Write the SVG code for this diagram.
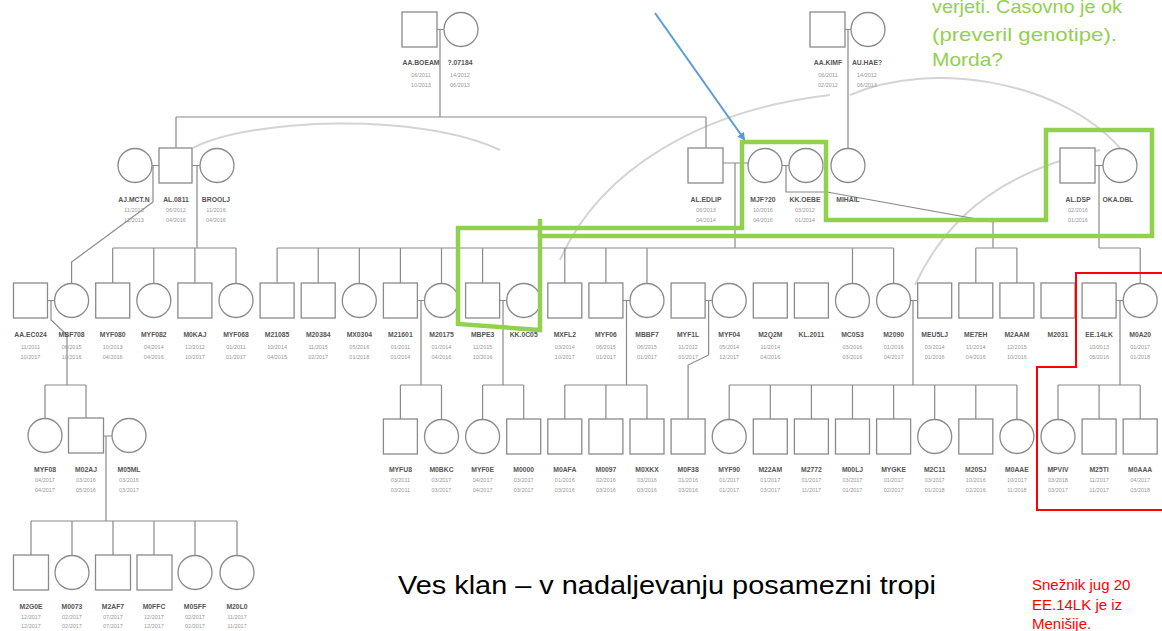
<svg xmlns="http://www.w3.org/2000/svg" width="1162" height="631" viewBox="0 0 1162 631">
<defs>
<style>
.s{fill:#fff;stroke:#8a8a8a;stroke-width:1.3}
.ln{fill:none;stroke:#8a8a8a;stroke-width:1.2}
.arc{fill:none;stroke:#d4d4d4;stroke-width:2}
.nm{font-family:"Liberation Sans",Arial,sans-serif;font-size:6.8px;font-weight:bold;fill:#555;text-anchor:middle}
.nb{font-family:"Liberation Sans",Arial,sans-serif;font-size:5.5px;fill:#999;text-anchor:middle}
.grn{fill:none;stroke:#92D050;stroke-width:4.5}
.red{fill:none;stroke:#FF0000;stroke-width:2}
.gt{font-family:"Liberation Sans",Arial,sans-serif;font-size:19px;fill:#92D050}
.rt{font-family:"Liberation Sans",Arial,sans-serif;font-size:15px;fill:#FF0000}
</style>
<marker id="ah" markerWidth="8" markerHeight="8" refX="6" refY="4" orient="auto" markerUnits="userSpaceOnUse" viewBox="0 0 8 8"><path d="M0,0 L8,4 L0,8 z" fill="#5B9BD5"/></marker>
</defs>
<rect width="1162" height="631" fill="#fff"/>

<g id="arcs">
<path class="arc" d="M193,148 C250,118 420,112 500,150"/>
<path class="arc" d="M560,260 C600,170 700,110 830,95"/>
<path class="arc" d="M850,95 C930,60 1060,80 1120,148"/>
<path class="arc" d="M915,285 C950,210 1010,170 1100,150"/>
</g>

<g id="connectors">
<path class="ln" d="M437,29.5 H443.5 M440,29.5 V117 M176,117 H706 M176,117 V148 M706,117 V148"/>
<path class="ln" d="M845,29.5 H851 M848,29.5 V148"/>
<path class="ln" d="M152,165.5 H159 M153,165.5 V202 L71.6,262 V283.5"/>
<path class="ln" d="M192,165.5 H200 M197,165.5 V248 M112.7,248 H236 M112.7,248 V283 M153.8,248 V283.5 M194.9,248 V283 M236,248 V283.5"/>
<path class="ln" d="M723,163 H748 M735,163 V248 M277.1,248 H893.6 M277.1,248 V283 M318.2,248 V283 M359.3,248 V283.5 M400.4,248 V283 M441.5,248 V283.5 M482.6,248 V283 M564.8,248 V283 M605.9,248 V283 M647,248 V283.5 M852.5,248 V283.5 M893.6,248 V283.5"/>
<path class="ln" d="M782,165.5 H789 M786,165.5 V192 H827 L993,222 V248 M975.8,248 H1016.9 M975.8,248 V283 M1016.9,248 V283"/>
<path class="ln" d="M1095,165.5 H1103 M1099,165.5 V248 M1099,248 H1140.2 M1140.2,248 V283.5"/>
<path class="ln" d="M47.5,300.5 H54.6 M51,300.5 V320 L67,335 V385 M45,385 H86 M45,385 V418 M86,385 V418"/>
<path class="ln" d="M103,436 H112 M106,436 V521 M31,521 H237 M31,521 V555 M72,521 V555.5 M113,521 V555 M154,521 V555 M195,521 V555.5 M237,521 V555.5"/>
<path class="ln" d="M417.4,300.5 H424.5 M421,300.5 V385 M400.4,385 H441.5 M400.4,385 V419 M441.5,385 V419.5"/>
<path class="ln" d="M499.6,300.5 H506.7 M503,300.5 V385 M482.6,385 H523.7 M482.6,385 V419.5 M523.7,385 V419"/>
<path class="ln" d="M622.9,300.5 H630 M626.5,300.5 V385 M564.8,385 H647 M564.8,385 V419 M605.9,385 V419 M647,385 V419"/>
<path class="ln" d="M705.1,300.5 H712.2 M708.6,300.5 V355 L688.1,365 V419"/>
<path class="ln" d="M910.6,300.5 H917.7 M913,300.5 V385 M729.2,385 H1016.9 M729.2,385 V419.5 M770.3,385 V419 M811.4,385 V419 M852.5,385 V419 M893.6,385 V419 M934.7,385 V419.5 M975.8,385 V419 M1016.9,385 V419.5"/>
<path class="ln" d="M1116.1,300.5 H1123.2 M1120,300.5 V385 M1058,385 H1140.2 M1058,385 V419.5 M1099.1,385 V419 M1140.2,385 V419"/>
</g>

<!-- Row 1 -->
<g id="n-aabo"><rect class="s" x="402" y="12" width="35" height="35"/><text class="nm" x="421" y="65">AA.BOEAM</text><text class="nb" x="421" y="77">06/2011</text><text class="nb" x="421" y="87">10/2013</text></g>
<g id="n-07184"><circle class="s" cx="461" cy="29.5" r="17"/><text class="nm" x="460" y="65">?.07184</text><text class="nb" x="460" y="77">14/2012</text><text class="nb" x="460" y="87">06/2013</text></g>
<g id="n-aakimf"><rect class="s" x="810" y="12" width="35" height="35"/><text class="nm" x="828" y="65">AA.KIMF</text><text class="nb" x="828" y="77">06/2011</text><text class="nb" x="828" y="87">02/2012</text></g>
<g id="n-auhae"><circle class="s" cx="868" cy="29.5" r="17"/><text class="nm" x="867" y="65">AU.HAE?</text><text class="nb" x="867" y="77">14/2012</text><text class="nb" x="867" y="87">06/2013</text></g>

<!-- Row 2 -->
<g id="n-ajmct"><circle class="s" cx="135" cy="165.5" r="17"/><text class="nm" x="134" y="202">AJ.MCT.N</text><text class="nb" x="134" y="212">11/2013</text><text class="nb" x="134" y="222">12/2013</text></g>
<g id="n-al0811"><rect class="s" x="159" y="148" width="33" height="35"/><text class="nm" x="176" y="202">AL.0811</text><text class="nb" x="176" y="212">06/2012</text><text class="nb" x="176" y="222">04/2016</text></g>
<g id="n-broolj"><circle class="s" cx="217" cy="165.5" r="17"/><text class="nm" x="216" y="202">BROOLJ</text><text class="nb" x="216" y="212">11/2016</text><text class="nb" x="216" y="222">04/2016</text></g>
<g id="n-aledlip"><rect class="s" x="688" y="148" width="35" height="35"/><text class="nm" x="706" y="202">AL.EDLIP</text><text class="nb" x="706" y="212">06/2013</text><text class="nb" x="706" y="222">04/2014</text></g>
<g id="n-mjf20"><circle class="s" cx="765" cy="165.5" r="17"/><text class="nm" x="763" y="202">MJF?20</text><text class="nb" x="763" y="212">10/2016</text><text class="nb" x="763" y="222">04/2016</text></g>
<g id="n-kkoeb"><circle class="s" cx="806" cy="165.5" r="17"/><text class="nm" x="805" y="202">KK.OEBE</text><text class="nb" x="805" y="212">03/2012</text><text class="nb" x="805" y="222">01/2014</text></g>
<g id="n-mihail"><circle class="s" cx="848" cy="165.5" r="17"/><text class="nm" x="848" y="202">MIHAIL</text></g>
<g id="n-aldsp"><rect class="s" x="1060" y="148" width="35" height="35"/><text class="nm" x="1078" y="202">AL.DSP</text><text class="nb" x="1078" y="212">02/2016</text><text class="nb" x="1078" y="222">01/2016</text></g>
<g id="n-okadbl"><circle class="s" cx="1120" cy="165.5" r="17"/><text class="nm" x="1118" y="202">OKA.DBL</text></g>

<!-- Row 3 -->
<g id="n-r3-01"><rect class="s" x="13.5" y="283" width="34" height="35"/><text class="nm" x="30.5" y="337">AA.EC024</text><text class="nb" x="30.5" y="349">11/2011</text><text class="nb" x="30.5" y="359">10/2017</text></g>
<g id="n-r3-02"><circle class="s" cx="71.6" cy="300.5" r="17"/><text class="nm" x="71.6" y="337">MBF708</text><text class="nb" x="71.6" y="349">06/2015</text><text class="nb" x="71.6" y="359">10/2016</text></g>
<g id="n-r3-03"><rect class="s" x="95.7" y="283" width="34" height="35"/><text class="nm" x="112.7" y="337">MYF080</text><text class="nb" x="112.7" y="349">10/2013</text><text class="nb" x="112.7" y="359">04/2016</text></g>
<g id="n-r3-04"><circle class="s" cx="153.8" cy="300.5" r="17"/><text class="nm" x="153.8" y="337">MYF082</text><text class="nb" x="153.8" y="349">04/2014</text><text class="nb" x="153.8" y="359">04/2016</text></g>
<g id="n-r3-05"><rect class="s" x="177.9" y="283" width="34" height="35"/><text class="nm" x="194.9" y="337">M0KAJ</text><text class="nb" x="194.9" y="349">12/2012</text><text class="nb" x="194.9" y="359">10/2017</text></g>
<g id="n-r3-06"><circle class="s" cx="236" cy="300.5" r="17"/><text class="nm" x="236" y="337">MYF068</text><text class="nb" x="236" y="349">01/2011</text><text class="nb" x="236" y="359">01/2017</text></g>
<g id="n-r3-07"><rect class="s" x="260.1" y="283" width="34" height="35"/><text class="nm" x="277.1" y="337">M21085</text><text class="nb" x="277.1" y="349">10/2014</text><text class="nb" x="277.1" y="359">04/2015</text></g>
<g id="n-r3-08"><rect class="s" x="301.2" y="283" width="34" height="35"/><text class="nm" x="318.2" y="337">M20384</text><text class="nb" x="318.2" y="349">11/2015</text><text class="nb" x="318.2" y="359">02/2017</text></g>
<g id="n-r3-09"><circle class="s" cx="359.3" cy="300.5" r="17"/><text class="nm" x="359.3" y="337">MX0304</text><text class="nb" x="359.3" y="349">05/2016</text><text class="nb" x="359.3" y="359">01/2018</text></g>
<g id="n-r3-10"><rect class="s" x="383.4" y="283" width="34" height="35"/><text class="nm" x="400.4" y="337">M21601</text><text class="nb" x="400.4" y="349">01/2011</text><text class="nb" x="400.4" y="359">01/2014</text></g>
<g id="n-r3-11"><circle class="s" cx="441.5" cy="300.5" r="17"/><text class="nm" x="441.5" y="337">M20175</text><text class="nb" x="441.5" y="349">01/2014</text><text class="nb" x="441.5" y="359">04/2016</text></g>
<g id="n-r3-12"><rect class="s" x="465.6" y="283" width="34" height="35"/><text class="nm" x="482.6" y="337">MBPE3</text><text class="nb" x="482.6" y="349">11/2015</text><text class="nb" x="482.6" y="359">10/2016</text></g>
<g id="n-r3-13"><circle class="s" cx="523.7" cy="300.5" r="17"/><text class="nm" x="523.7" y="337">KK.0C05</text></g>
<g id="n-r3-14"><rect class="s" x="547.8" y="283" width="34" height="35"/><text class="nm" x="564.8" y="337">MXFL2</text><text class="nb" x="564.8" y="349">03/2014</text><text class="nb" x="564.8" y="359">10/2017</text></g>
<g id="n-r3-15"><rect class="s" x="588.9" y="283" width="34" height="35"/><text class="nm" x="605.9" y="337">MYF06</text><text class="nb" x="605.9" y="349">06/2015</text><text class="nb" x="605.9" y="359">01/2017</text></g>
<g id="n-r3-16"><circle class="s" cx="647" cy="300.5" r="17"/><text class="nm" x="647" y="337">MBBF7</text><text class="nb" x="647" y="349">06/2015</text><text class="nb" x="647" y="359">01/2017</text></g>
<g id="n-r3-17"><rect class="s" x="671.1" y="283" width="34" height="35"/><text class="nm" x="688.1" y="337">MYF1L</text><text class="nb" x="688.1" y="349">11/2012</text><text class="nb" x="688.1" y="359">01/2017</text></g>
<g id="n-r3-18"><circle class="s" cx="729.2" cy="300.5" r="17"/><text class="nm" x="729.2" y="337">MYF04</text><text class="nb" x="729.2" y="349">05/2014</text><text class="nb" x="729.2" y="359">12/2017</text></g>
<g id="n-r3-19"><rect class="s" x="753.3" y="283" width="34" height="35"/><text class="nm" x="770.3" y="337">M2Q2M</text><text class="nb" x="770.3" y="349">11/2014</text><text class="nb" x="770.3" y="359">04/2016</text></g>
<g id="n-r3-20"><rect class="s" x="794.4" y="283" width="34" height="35"/><text class="nm" x="811.4" y="337">KL.2011</text></g>
<g id="n-r3-21"><circle class="s" cx="852.5" cy="300.5" r="17"/><text class="nm" x="852.5" y="337">MC0S3</text><text class="nb" x="852.5" y="349">03/2016</text><text class="nb" x="852.5" y="359">03/2016</text></g>
<g id="n-r3-22"><circle class="s" cx="893.6" cy="300.5" r="17"/><text class="nm" x="893.6" y="337">M2090</text><text class="nb" x="893.6" y="349">01/2016</text><text class="nb" x="893.6" y="359">04/2017</text></g>
<g id="n-r3-23"><rect class="s" x="917.7" y="283" width="34" height="35"/><text class="nm" x="934.7" y="337">MEU5LJ</text><text class="nb" x="934.7" y="349">03/2014</text><text class="nb" x="934.7" y="359">01/2016</text></g>
<g id="n-r3-24"><rect class="s" x="958.8" y="283" width="34" height="35"/><text class="nm" x="975.8" y="337">ME7EH</text><text class="nb" x="975.8" y="349">11/2014</text><text class="nb" x="975.8" y="359">04/2016</text></g>
<g id="n-r3-25"><rect class="s" x="999.9" y="283" width="34" height="35"/><text class="nm" x="1016.9" y="337">M2AAM</text><text class="nb" x="1016.9" y="349">12/2015</text><text class="nb" x="1016.9" y="359">10/2016</text></g>
<g id="n-r3-26"><rect class="s" x="1041" y="283" width="34" height="35"/><text class="nm" x="1058" y="337">M2031</text></g>
<g id="n-r3-27"><rect class="s" x="1082.1" y="283" width="34" height="35"/><text class="nm" x="1099.1" y="337">EE.14LK</text><text class="nb" x="1099.1" y="349">10/2013</text><text class="nb" x="1099.1" y="359">05/2016</text></g>
<g id="n-r3-28"><circle class="s" cx="1140.2" cy="300.5" r="17"/><text class="nm" x="1140.2" y="337">M0A20</text><text class="nb" x="1140.2" y="349">01/2017</text><text class="nb" x="1140.2" y="359">01/2018</text></g>

<!-- Row 4 left -->
<g id="n-r4-a"><circle class="s" cx="45" cy="435.5" r="17"/><text class="nm" x="45" y="472">MYF08</text><text class="nb" x="45" y="482">04/2017</text><text class="nb" x="45" y="492">04/2017</text></g>
<g id="n-r4-b"><rect class="s" x="68.5" y="418" width="35" height="35"/><text class="nm" x="86" y="472">M02AJ</text><text class="nb" x="86" y="482">03/2016</text><text class="nb" x="86" y="492">05/2016</text></g>
<g id="n-r4-c"><circle class="s" cx="129" cy="435.5" r="17"/><text class="nm" x="129" y="472">M05ML</text><text class="nb" x="129" y="482">03/2016</text><text class="nb" x="129" y="492">03/2017</text></g>

<!-- Row 4 -->
<g id="n-r4-10"><rect class="s" x="383.4" y="419" width="34" height="35"/><text class="nm" x="400.4" y="472">MYFU8</text><text class="nb" x="400.4" y="482">03/2011</text><text class="nb" x="400.4" y="492">03/2011</text></g>
<g id="n-r4-11"><circle class="s" cx="441.5" cy="436.5" r="17"/><text class="nm" x="441.5" y="472">M0BKC</text><text class="nb" x="441.5" y="482">03/2017</text><text class="nb" x="441.5" y="492">03/2017</text></g>
<g id="n-r4-12"><circle class="s" cx="482.6" cy="436.5" r="17"/><text class="nm" x="482.6" y="472">MYF0E</text><text class="nb" x="482.6" y="482">04/2017</text><text class="nb" x="482.6" y="492">04/2017</text></g>
<g id="n-r4-13"><rect class="s" x="506.7" y="419" width="34" height="35"/><text class="nm" x="523.7" y="472">M0000</text><text class="nb" x="523.7" y="482">03/2017</text><text class="nb" x="523.7" y="492">03/2017</text></g>
<g id="n-r4-14"><rect class="s" x="547.8" y="419" width="34" height="35"/><text class="nm" x="564.8" y="472">M0AFA</text><text class="nb" x="564.8" y="482">01/2016</text><text class="nb" x="564.8" y="492">03/2016</text></g>
<g id="n-r4-15"><rect class="s" x="588.9" y="419" width="34" height="35"/><text class="nm" x="605.9" y="472">M0097</text><text class="nb" x="605.9" y="482">02/2016</text><text class="nb" x="605.9" y="492">03/2016</text></g>
<g id="n-r4-16"><rect class="s" x="630" y="419" width="34" height="35"/><text class="nm" x="647" y="472">M0XKX</text><text class="nb" x="647" y="482">03/2016</text><text class="nb" x="647" y="492">03/2016</text></g>
<g id="n-r4-17"><rect class="s" x="671.1" y="419" width="34" height="35"/><text class="nm" x="688.1" y="472">M0F38</text><text class="nb" x="688.1" y="482">01/2016</text><text class="nb" x="688.1" y="492">03/2016</text></g>
<g id="n-r4-18"><circle class="s" cx="729.2" cy="436.5" r="17"/><text class="nm" x="729.2" y="472">MYF90</text><text class="nb" x="729.2" y="482">01/2017</text><text class="nb" x="729.2" y="492">01/2017</text></g>
<g id="n-r4-19"><rect class="s" x="753.3" y="419" width="34" height="35"/><text class="nm" x="770.3" y="472">M22AM</text><text class="nb" x="770.3" y="482">01/2017</text><text class="nb" x="770.3" y="492">03/2017</text></g>
<g id="n-r4-20"><rect class="s" x="794.4" y="419" width="34" height="35"/><text class="nm" x="811.4" y="472">M2772</text><text class="nb" x="811.4" y="482">01/2017</text><text class="nb" x="811.4" y="492">11/2017</text></g>
<g id="n-r4-21"><rect class="s" x="835.5" y="419" width="34" height="35"/><text class="nm" x="852.5" y="472">M00LJ</text><text class="nb" x="852.5" y="482">03/2017</text><text class="nb" x="852.5" y="492">01/2017</text></g>
<g id="n-r4-22"><rect class="s" x="876.6" y="419" width="34" height="35"/><text class="nm" x="893.6" y="472">MYGKE</text><text class="nb" x="893.6" y="482">01/2017</text><text class="nb" x="893.6" y="492">02/2017</text></g>
<g id="n-r4-23"><circle class="s" cx="934.7" cy="436.5" r="17"/><text class="nm" x="934.7" y="472">M2C11</text><text class="nb" x="934.7" y="482">03/2017</text><text class="nb" x="934.7" y="492">01/2018</text></g>
<g id="n-r4-24"><rect class="s" x="958.8" y="419" width="34" height="35"/><text class="nm" x="975.8" y="472">M20SJ</text><text class="nb" x="975.8" y="482">10/2016</text><text class="nb" x="975.8" y="492">02/2016</text></g>
<g id="n-r4-25"><circle class="s" cx="1016.9" cy="436.5" r="17"/><text class="nm" x="1016.9" y="472">M0AAE</text><text class="nb" x="1016.9" y="482">10/2017</text><text class="nb" x="1016.9" y="492">11/2018</text></g>
<g id="n-r4-26"><circle class="s" cx="1058" cy="436.5" r="17"/><text class="nm" x="1058" y="472">MPVIV</text><text class="nb" x="1058" y="482">03/2018</text><text class="nb" x="1058" y="492">03/2017</text></g>
<g id="n-r4-27"><rect class="s" x="1082.1" y="419" width="34" height="35"/><text class="nm" x="1099.1" y="472">M25TI</text><text class="nb" x="1099.1" y="482">11/2017</text><text class="nb" x="1099.1" y="492">11/2017</text></g>
<g id="n-r4-28"><rect class="s" x="1123.2" y="419" width="34" height="35"/><text class="nm" x="1140.2" y="472">M0AAA</text><text class="nb" x="1140.2" y="482">04/2017</text><text class="nb" x="1140.2" y="492">03/2018</text></g>

<!-- Row 5 -->
<g id="n-r5-1"><rect class="s" x="13.5" y="555" width="35" height="35"/><text class="nm" x="31" y="609">M2G0E</text><text class="nb" x="31" y="619">12/2017</text><text class="nb" x="31" y="628">12/2017</text></g>
<g id="n-r5-2"><circle class="s" cx="72" cy="572.5" r="17"/><text class="nm" x="72" y="609">M0073</text><text class="nb" x="72" y="619">02/2017</text><text class="nb" x="72" y="628">02/2017</text></g>
<g id="n-r5-3"><rect class="s" x="95.5" y="555" width="35" height="35"/><text class="nm" x="113" y="609">M2AF7</text><text class="nb" x="113" y="619">07/2017</text><text class="nb" x="113" y="628">07/2017</text></g>
<g id="n-r5-4"><rect class="s" x="137" y="555" width="35" height="35"/><text class="nm" x="154" y="609">M0FFC</text><text class="nb" x="154" y="619">12/2017</text><text class="nb" x="154" y="628">12/2017</text></g>
<g id="n-r5-5"><circle class="s" cx="195" cy="572.5" r="17"/><text class="nm" x="195" y="609">M0SFF</text><text class="nb" x="195" y="619">02/2017</text><text class="nb" x="195" y="628">02/2017</text></g>
<g id="n-r5-6"><circle class="s" cx="237" cy="572.5" r="17"/><text class="nm" x="237" y="609">M20L0</text><text class="nb" x="237" y="619">11/2017</text><text class="nb" x="237" y="628">11/2017</text></g>

<!-- Annotations -->
<g id="green-highlight">
<polygon class="grn" points="458,228 742,228 742,142 826,142 826,220 1046,220 1046,130 1152,130 1152,236 540,236 540,330 458,324"/>
<path class="grn" d="M540,219 V236"/>
</g>
<g id="red-highlight"><polyline class="red" points="1162,273 1076,273 1076,367 1037,367 1037,510 1162,510"/></g>
<g id="blue-arrow"><line x1="655" y1="13" x2="744" y2="139" stroke="#5B9BD5" stroke-width="2" marker-end="url(#ah)"/></g>
<g id="green-note">
<text class="gt" x="932" y="13" textLength="190" lengthAdjust="spacingAndGlyphs">verjeti. Časovno je ok</text>
<text class="gt" x="932" y="41" textLength="185" lengthAdjust="spacingAndGlyphs">(preveril genotipe).</text>
<text class="gt" x="932" y="66" textLength="71" lengthAdjust="spacingAndGlyphs">Morda?</text>
</g>
<g id="red-note">
<text class="rt" x="1032" y="590">Snežnik jug 20</text>
<text class="rt" x="1032" y="610">EE.14LK je iz</text>
<text class="rt" x="1032" y="629">Menišije.</text>
</g>
<text x="398" y="594" font-family="Liberation Sans, Arial, sans-serif" font-size="26" fill="#000" textLength="538" lengthAdjust="spacingAndGlyphs">Ves klan – v nadaljevanju posamezni tropi</text>
</svg>
